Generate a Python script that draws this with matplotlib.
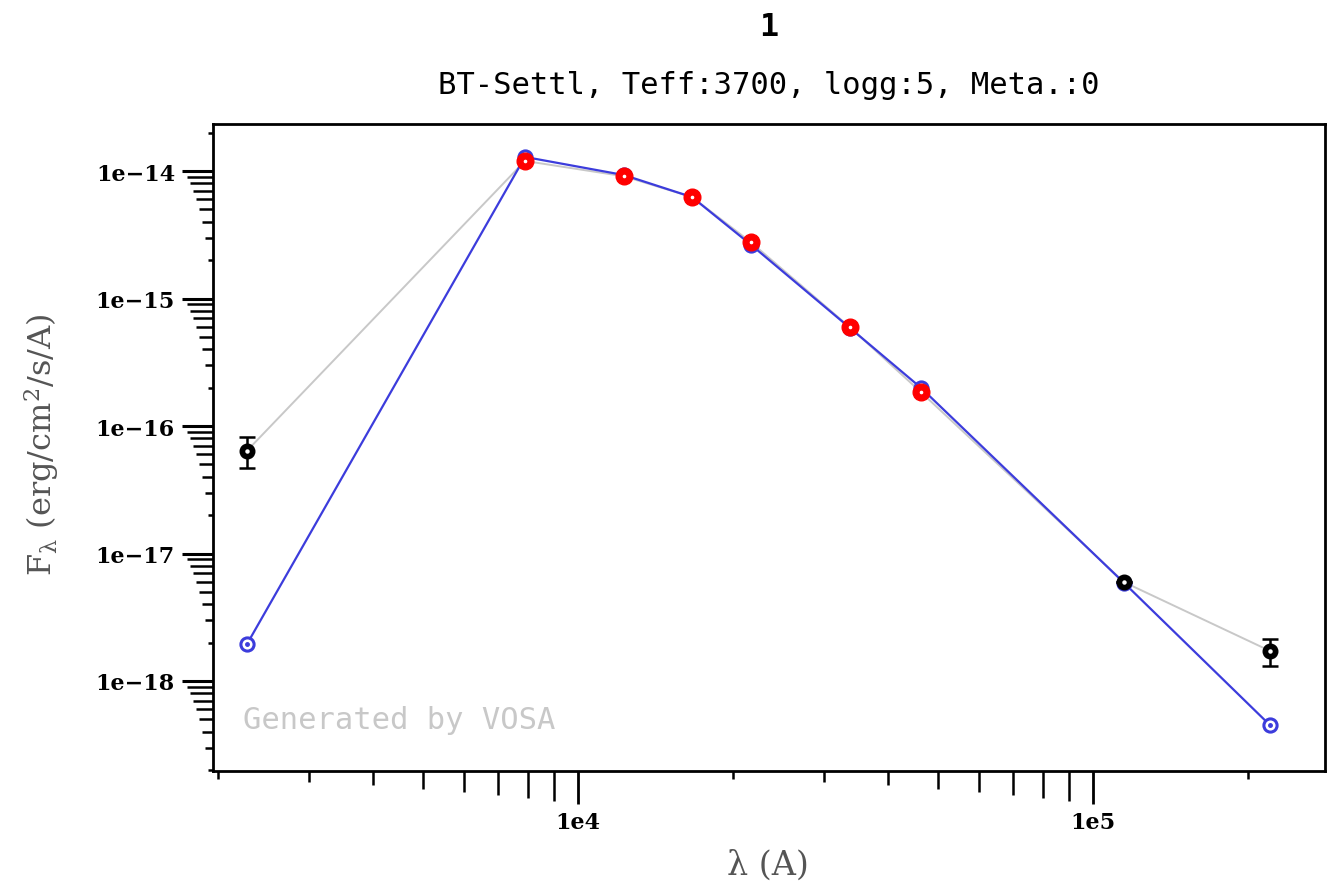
import matplotlib
matplotlib.use("Agg")
import matplotlib.pyplot as plt
import matplotlib.transforms as mtransforms
from matplotlib.markers import TICKDOWN, TICKLEFT
from matplotlib.ticker import NullLocator
import numpy as np

plt.rcParams["mathtext.fontset"] = "dejavuserif"

# ---- data ----
wavelength = [2277, 7890, 12285, 16650, 21650, 33700, 46300, 114800, 220700]
model_flux = [1.95e-18, 1.29e-14, 9.3e-15, 6.25e-15, 2.65e-15, 5.9e-16, 2.0e-16, 5.9e-18, 4.5e-19]
obs_flux = [6.4e-17, 1.2e-14, 9.1e-15, 6.25e-15, 2.77e-15, 5.97e-16, 1.85e-16, 5.97e-18, 1.72e-18]
obs_err = [1.75e-17, 0, 0, 0, 0, 0, 0, 0, 4.2e-19]
fitted = [False, True, True, True, True, True, True, False, False]

xtick_values = [1e4, 1e5]
xtick_labels = ["1e4", "1e5"]
ytick_values = [1e-18, 1e-17, 1e-16, 1e-15, 1e-14]
ytick_labels = ["1e\u221218", "1e\u221217", "1e\u221216", "1e\u221215", "1e\u221214"]

title_text = "1"
subtitle_text = "BT-Settl, Teff:3700, logg:5, Meta.:0"
watermark = "Generated by VOSA"

# ---- figure ----
W, H = 1331, 887
fig = plt.figure(figsize=(W / 100, H / 100), dpi=100)
ax = fig.add_axes([213 / W, 1 - 772 / H, (1325 - 213) / W, (772 - 125) / H])
ax.set_xscale("log")
ax.set_yscale("log")
ax.set_xlim(10 ** 3.2913, 10 ** 5.4505)
ax.set_ylim(10 ** -18.706, 10 ** -13.631)

blue = "#3c3cdc"
grey = "#c8c8c8"

wl = np.array(wavelength)
mf = np.array(model_flux)
of = np.array(obs_flux)
oe = np.array(obs_err)
fm = np.array(fitted)

# observed (grey) line
ax.plot(wl, of, color=grey, lw=1.4, zorder=1)
# model line
ax.plot(wl, mf, color=blue, lw=1.6, zorder=2)
ax.plot(wl, mf, ls="none", marker="o", ms=9.5, mfc="white", mec=blue, mew=2.2, zorder=3)
ax.plot(wl, mf, ls="none", marker="o", ms=2.5, mfc=blue, mec=blue, zorder=3)
# fitted observed points (red)
ax.plot(wl[fm], of[fm], ls="none", marker="o", ms=12, mfc="red", mec="red", zorder=4)
ax.plot(wl[fm], of[fm], ls="none", marker="o", ms=1.6, mfc="white", mec="white", zorder=4)
# non-fitted observed points (black) with error bars
nf = ~fm
ax.errorbar(wl[nf], of[nf], yerr=oe[nf], fmt="o", ms=10.5, mfc="black", mec="black",
            ecolor="black", elinewidth=1.8, capsize=6, capthick=1.8, zorder=5)
ax.plot(wl[nf], of[nf], ls="none", marker="o", ms=2.2, mfc="white", mec="white", zorder=6)

# ---- axes styling ----
for s in ax.spines.values():
    s.set_linewidth(2.0)
    s.set_color("black")

ax.xaxis.set_minor_locator(NullLocator())
ax.yaxis.set_minor_locator(NullLocator())
ax.set_xticks(xtick_values, labels=xtick_labels)
ax.set_yticks(ytick_values, labels=ytick_labels)
ax.tick_params(axis="x", which="major", direction="out", length=33 * 0.72, width=2.0, pad=5,
               labelsize=16)
ax.tick_params(axis="y", which="major", direction="out", length=31 * 0.72, width=2.2, pad=5,
               labelsize=16)
for lab in ax.get_xticklabels() + ax.get_yticklabels():
    lab.set_family("DejaVu Serif")
    lab.set_fontweight("bold")

# minor ticks with length growing with mantissa
tx = mtransforms.blended_transform_factory(ax.transData, ax.transAxes)
ty = mtransforms.blended_transform_factory(ax.transAxes, ax.transData)
x0, x1 = ax.get_xlim()
y0, y1 = ax.get_ylim()
for k in range(3, 6):
    for m in range(2, 10):
        v = m * 10 ** k
        if x0 <= v <= x1:
            L = (3.1 * m + 2) * 0.72
            ax.plot([v], [0], marker=TICKDOWN, ms=L, mew=1.8, color="black",
                    transform=tx, clip_on=False, zorder=10)
for k in range(-19, -13):
    for m in range(2, 10):
        v = m * 10.0 ** k
        if y0 <= v <= y1:
            L = (3.0 * m - 1) * 0.72
            ax.plot([0], [v], marker=TICKLEFT, ms=L, mew=1.8, color="black",
                    transform=ty, clip_on=False, zorder=10)

# ---- texts ----
cx = (213 + 1325) / 2 / W
fig.text(cx, 1 - 27 / H, title_text, ha="center", va="center",
         family="DejaVu Sans Mono", fontweight="bold", fontsize=23)
fig.text(cx, 1 - 85 / H, subtitle_text, ha="center", va="center",
         family="DejaVu Sans Mono", fontsize=22)
ax.text(0.027, 0.079, watermark, transform=ax.transAxes, ha="left", va="center",
        family="DejaVu Sans Mono", fontsize=22, color="#c8c8c8")
fig.text(42 / W, 1 - 445 / H, r"F$_\mathrm{\lambda}$ (erg/cm$^2$/s/A)", rotation=90,
         ha="center", va="center", family="DejaVu Serif", fontsize=23, color="#555555")
fig.text(768 / W, 1 - 866 / H, "\u03bb (A)", ha="center", va="center",
         family="DejaVu Serif", fontsize=24, color="#555555")

fig.savefig("out.png", dpi=100, facecolor="white")
